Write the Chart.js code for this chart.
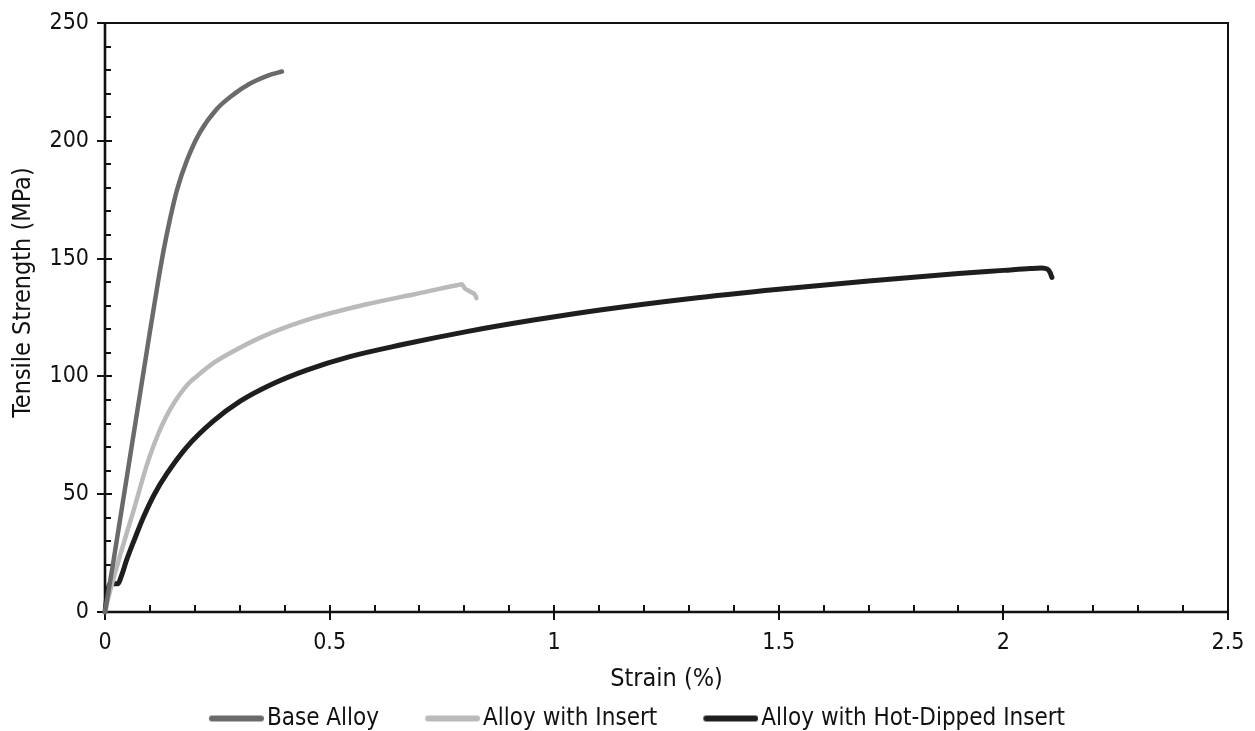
<!DOCTYPE html>
<html>
<head>
<meta charset="utf-8">
<title>Tensile Strength vs Strain</title>
<script src="https://cdn.jsdelivr.net/npm/chart.js@4.4.1/dist/chart.umd.min.js"></script>
<style>
  html, body { margin: 0; padding: 0; background: #fff; overflow: hidden; }
  #wrap { width: 1255px; height: 731px; }
</style>
</head>
<body>
<div id="wrap"><canvas id="c" width="1255" height="731"></canvas></div>
<script>
// Stress–strain curves: strain in %, tensile strength in MPa
const seriesNames = ['Base Alloy', 'Alloy with Insert', 'Alloy with Hot-Dipped Insert'];

const baseStrain = [0, 0.020, 0.040, 0.060, 0.080, 0.100, 0.118, 0.130, 0.145, 0.160, 0.183, 0.211, 0.249, 0.285, 0.323, 0.361, 0.394];
const baseStress = [0, 23, 47, 71, 95, 119, 140, 153, 167, 179, 192, 203.5, 213.5, 219.5, 224.3, 227.6, 229.4];

const insertStrain = [0, 0.010, 0.020, 0.035, 0.050, 0.065, 0.080, 0.095, 0.110, 0.125, 0.145, 0.165, 0.186, 0.204, 0.241, 0.289, 0.352, 0.464, 0.583, 0.694, 0.783, 0.794, 0.801, 0.813, 0.824, 0.827];
const insertStress = [0, 8, 15, 25, 34.5, 44, 54, 63.5, 71.5, 78.5, 86, 92, 97, 100, 105.6, 111.0, 117.0, 124.8, 130.6, 135.1, 138.7, 139.1, 137.4, 136.0, 134.6, 133.2];

const dippedStrain = [0, 0.004, 0.011, 0.029, 0.036, 0.048, 0.066, 0.085, 0.110, 0.137, 0.182, 0.241, 0.301, 0.375, 0.449, 0.545, 0.657, 0.805, 0.954, 1.102, 1.30, 1.50, 1.70, 1.90, 2.00, 2.06, 2.085, 2.098, 2.104, 2.108];
const dippedStress = [0, 6, 12, 12, 15, 22, 31, 40, 50, 58.5, 70, 81, 89.5, 97, 102.7, 108.4, 113.3, 119.0, 123.9, 128.2, 133.0, 137.0, 140.5, 143.7, 145.0, 145.8, 146.0, 145.5, 144.0, 142.0];

const xTickValues = [0, 0.5, 1, 1.5, 2, 2.5];
const yTickValues = [0, 50, 100, 150, 200, 250];

const seriesColors = ['#6a6a6a', '#bababa', '#1e1e1e'];
const seriesWidths = [4.5, 4.5, 5];

const FONT = "'DejaVu Sans Condensed', 'DejaVu Sans', sans-serif";
const LEGEND_SIZE = 24;
const TICK_SIZE = 23;

function toPoints(xs, ys) {
  return xs.map((x, i) => ({ x: x, y: ys[i] }));
}

// Legend marks: a thick line at the right end of a wider transparent strip,
// so entries keep wide gaps between them and a short gap before each label.
const MARK_BOX = 92;
const MARK_IMG = MARK_BOX + LEGEND_SIZE - 6;
const MARK_LEN = 55;
function legendMark(color) {
  const c = document.createElement('canvas');
  c.width = MARK_IMG; c.height = 8;
  const g = c.getContext('2d');
  g.strokeStyle = color;
  g.lineWidth = 6;
  g.lineCap = 'round';
  g.beginPath();
  g.moveTo(MARK_IMG - MARK_LEN + 3, 4);
  g.lineTo(MARK_IMG - 3, 4);
  g.stroke();
  return c;
}
const legendMarks = seriesColors.map(legendMark);

// Axis frame with crossing major ticks and inward minor ticks
const framePlugin = {
  id: 'frame',
  beforeDatasetsDraw(chart) {
    const { ctx, chartArea: a, scales: { x, y } } = chart;
    ctx.save();
    ctx.strokeStyle = '#111';
    ctx.lineCap = 'butt';
    ctx.lineWidth = 2;
    ctx.strokeRect(a.left, a.top, a.right - a.left, a.bottom - a.top);
    ctx.beginPath();
    for (let i = 0; i <= 25; i++) {
      const v = i * 10;
      const py = Math.round(y.getPixelForValue(v));
      const major = i % 5 === 0;
      ctx.moveTo(a.left - (major ? 8 : 0), py);
      ctx.lineTo(a.left + (major ? 7 : 6), py);
    }
    for (let i = 0; i <= 25; i++) {
      const v = i / 10;
      const px = Math.round(x.getPixelForValue(v));
      const major = i % 5 === 0;
      ctx.moveTo(px, a.bottom + (major ? 8 : 0));
      ctx.lineTo(px, a.bottom - 7);
    }
    ctx.stroke();
    ctx.lineWidth = 2.6;
    ctx.beginPath();
    ctx.moveTo(a.left, a.top - 1);
    ctx.lineTo(a.left, a.bottom);
    ctx.lineTo(a.right + 1, a.bottom);
    ctx.stroke();
    ctx.restore();
  }
};

const makeSet = (i, xs, ys) => ({
  label: seriesNames[i],
  data: toPoints(xs, ys),
  borderColor: seriesColors[i],
  backgroundColor: seriesColors[i],
  borderWidth: seriesWidths[i],
  showLine: true,
  pointRadius: 0,
  pointHoverRadius: 0,
  cubicInterpolationMode: 'monotone',
  borderCapStyle: 'round',
  borderJoinStyle: 'round',
  clip: 6
});

// invisible tick marks only reserve room between the axis and its labels
const hiddenGrid = (len) => ({
  display: true,
  drawOnChartArea: false,
  drawTicks: true,
  tickLength: len,
  tickColor: 'rgba(0,0,0,0)',
  color: 'rgba(0,0,0,0)'
});

new Chart(document.getElementById('c'), {
  type: 'scatter',
  data: {
    datasets: [
      makeSet(0, baseStrain, baseStress),
      makeSet(1, insertStrain, insertStress),
      makeSet(2, dippedStrain, dippedStress)
    ]
  },
  options: {
    responsive: false,
    animation: false,
    events: [],
    layout: { padding: { left: 0, right: 27, top: 23, bottom: 0 } },
    plugins: {
      tooltip: { enabled: false },
      legend: {
        position: 'bottom',
        align: 'center',
        maxHeight: 24.5,
        labels: {
          usePointStyle: true,
          pointStyleWidth: MARK_BOX,
          padding: 0,
          color: '#111',
          font: { family: FONT, size: LEGEND_SIZE },
          generateLabels(chart) {
            return chart.data.datasets.map((ds, i) => ({
              text: ds.label,
              fillStyle: ds.borderColor,
              strokeStyle: ds.borderColor,
              lineWidth: 0,
              pointStyle: legendMarks[i],
              hidden: false,
              datasetIndex: i,
              fontColor: '#111'
            }));
          }
        }
      }
    },
    scales: {
      x: {
        type: 'linear',
        min: 0,
        max: 2.5,
        afterFit(scale) { scale.height = 94.5; },
        afterBuildTicks(scale) { scale.ticks = xTickValues.map(v => ({ value: v })); },
        ticks: {
          autoSkip: false,
          maxRotation: 0,
          padding: 3,
          color: '#111',
          font: { family: FONT, size: TICK_SIZE },
          callback: v => String(v)
        },
        grid: hiddenGrid(14),
        border: { display: false },
        title: {
          display: true,
          text: 'Strain (%)',
          color: '#111',
          font: { family: FONT, size: 25 },
          padding: { top: 0, bottom: 12.5 }
        }
      },
      y: {
        type: 'linear',
        min: 0,
        max: 250,
        afterFit(scale) { scale.width = 105; },
        afterBuildTicks(scale) { scale.ticks = yTickValues.map(v => ({ value: v })); },
        ticks: {
          padding: 6,
          color: '#111',
          font: { family: FONT, size: TICK_SIZE },
          callback: v => String(v)
        },
        grid: hiddenGrid(10),
        border: { display: false },
        title: {
          display: true,
          text: '       Tensile Strength (MPa)',
          color: '#111',
          font: { family: FONT, size: 25 },
          padding: { top: 8.5, bottom: 0 }
        }
      }
    }
  },
  plugins: [framePlugin]
});
</script>
</body>
</html>
